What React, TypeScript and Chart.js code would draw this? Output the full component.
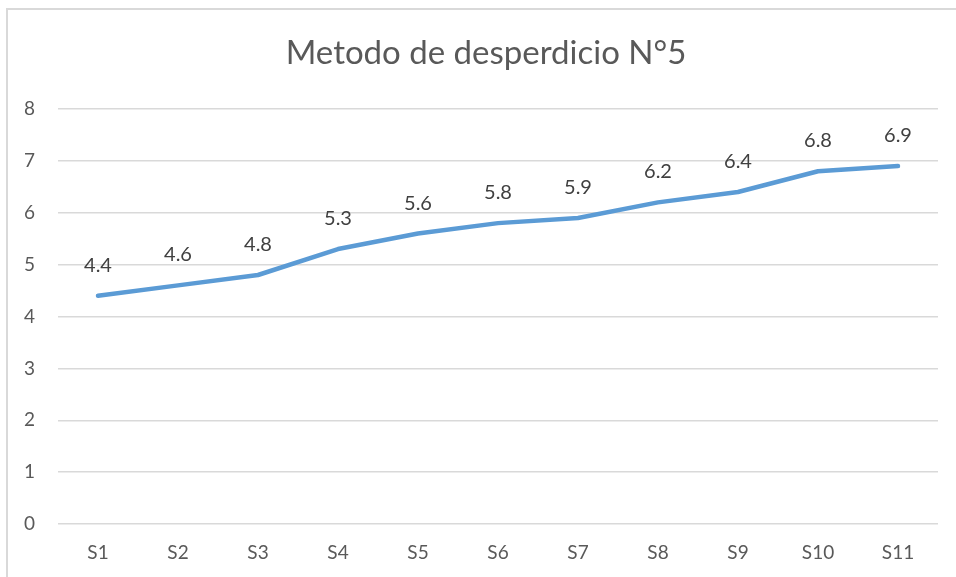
import React, { useEffect, useRef } from "react";
import { Chart, registerables } from "chart.js";

Chart.register(...registerables);

const chartTitle = "Metodo de desperdicio N°5";
const categories = ["S1", "S2", "S3", "S4", "S5", "S6", "S7", "S8", "S9", "S10", "S11"];
const values = [4.4, 4.6, 4.8, 5.3, 5.6, 5.8, 5.9, 6.2, 6.4, 6.8, 6.9];
const yMin = 0;
const yMax = 8;
const yStep = 1;

const FONT = "Lato, 'Open Sans', sans-serif";

const titlePlugin = {
  id: "customTitle",
  afterDraw(chart: any) {
    const ctx = chart.ctx;
    ctx.save();
    ctx.font = `33px ${FONT}`;
    ctx.fillStyle = "#595959";
    ctx.textAlign = "center";
    ctx.textBaseline = "alphabetic";
    ctx.fillText(chartTitle, 486, 64);
    ctx.restore();
  },
};

const labelPlugin = {
  id: "dataLabels",
  afterDatasetsDraw(chart: any) {
    const ctx = chart.ctx;
    const meta = chart.getDatasetMeta(0);
    ctx.save();
    ctx.font = `20px ${FONT}`;
    ctx.fillStyle = "#404040";
    ctx.textAlign = "center";
    ctx.textBaseline = "alphabetic";
    meta.data.forEach((pt: any, i: number) => {
      ctx.fillText(String(values[i]), pt.x, pt.y - 24);
    });
    ctx.restore();
  },
};

export default function App() {
  const ref = useRef<HTMLCanvasElement | null>(null);
  useEffect(() => {
    if (!ref.current) return;
    const chart = new Chart(ref.current, {
      type: "line",
      data: {
        labels: categories,
        datasets: [
          {
            data: values,
            borderColor: "#5B9BD5",
            borderWidth: 4.5,
            borderCapStyle: "round",
            borderJoinStyle: "round",
            pointRadius: 0,
            tension: 0,
            fill: false,
          },
        ],
      },
      options: {
        animation: false,
        responsive: false,
        devicePixelRatio: 1,
        layout: { padding: { top: 109, right: 34, bottom: 0, left: 0 } },
        plugins: {
          legend: { display: false },
          title: { display: false },
          tooltip: { enabled: false },
        },
        scales: {
          x: {
            offset: true,
            grid: { display: false, drawTicks: false },
            border: { display: false },
            ticks: { color: "#595959", font: { family: FONT, size: 19 }, padding: 17, maxRotation: 0 },
            afterFit(scale: any) {
              scale.height = 53;
            },
          },
          y: {
            min: yMin,
            max: yMax,
            grid: { color: "#d9d9d9", lineWidth: 1.5, drawTicks: false },
            border: { display: false },
            ticks: { stepSize: yStep, color: "#595959", font: { family: FONT, size: 19 }, padding: 23 },
            afterFit(scale: any) {
              scale.width = 58;
            },
          },
        },
      },
      plugins: [titlePlugin, labelPlugin],
    });
    return () => chart.destroy();
  }, []);

  return (
    <div style={{ position: "fixed", left: 0, top: 0, width: 956, height: 577, overflow: "hidden", background: "#fff" }}>
      <div
        style={{
          position: "absolute",
          left: 6,
          top: 8,
          width: 1200,
          height: 800,
          border: "2px solid #d9d9d9",
          boxSizing: "border-box",
        }}
      />
      <canvas
        ref={ref}
        width={972}
        height={577}
        style={{ position: "absolute", left: 0, top: 0, width: 972, height: 577 }}
      />
    </div>
  );
}
